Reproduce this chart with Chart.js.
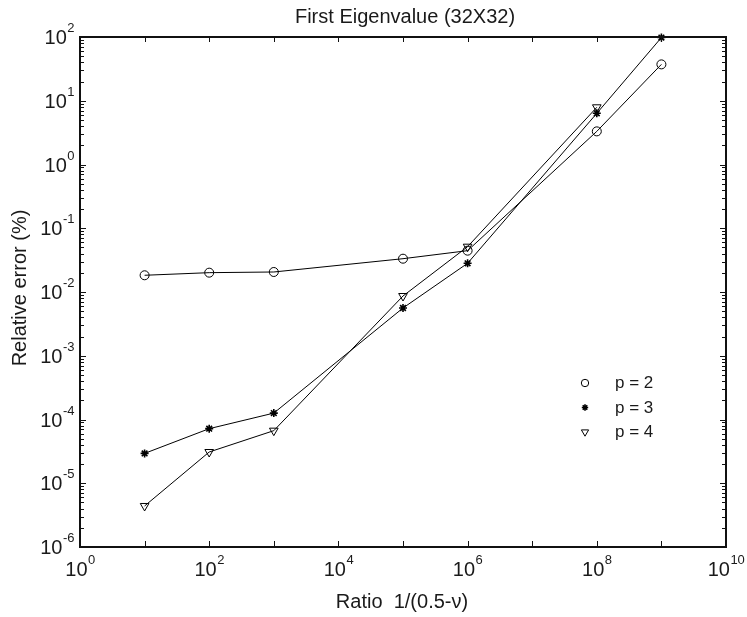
<!DOCTYPE html>
<html>
<head>
<meta charset="utf-8">
<script src="https://cdn.jsdelivr.net/npm/chart.js@4"></script>
<style>
  body { margin: 0; background: #fff; }
  #wrap { width: 747px; height: 617px; position: relative; }
</style>
</head>
<body>
<div id="wrap"><canvas id="c"></canvas></div>
<script>
// ratio 1/(0.5-nu) and relative error (%)
var ratios = [10, 100, 1000, 1e5, 1e6, 1e8, 1e9];
var errP2 = [0.0183, 0.0201, 0.0206, 0.0333, 0.0445, 3.31, 37.2];
var errP3 = [2.94e-5, 7.18e-5, 1.26e-4, 5.61e-3, 0.0282, 6.35, 98];
var errP4 = [4.4e-6, 3.09e-5, 6.68e-5, 8.65e-3, 0.0514, 7.89];
var seriesLabels = ["p = 2", "p = 3", "p = 4"];
var xLabelExps = [0, 2, 4, 6, 8, 10];
var xTickExps = [0, 1, 2, 3, 4, 5, 6, 7, 8, 9, 10];
var yTickExps = [-6, -5, -4, -3, -2, -1, 0, 1, 2];
var titleText = "First Eigenvalue (32X32)";
var xTitle = "Ratio  1/(0.5-\u03bd)";
var yTitle = "Relative error (%)";

var FONT = '"Liberation Sans", Arial, Helvetica, sans-serif';

function pts(ys) {
    return ys.map(function (v, i) { return {x: ratios[i], y: v}; });
}

var styles = [
    {pointStyle: "circle", radius: 4.5, rotation: 0, width: 1},
    {pointStyle: "star", radius: 4, rotation: 0, width: 1.6},
    {pointStyle: "triangle", radius: 5, rotation: 180, width: 1}
];

var datasets = [errP2, errP3, errP4].map(function (ys, i) {
    return {
        label: seriesLabels[i],
        data: pts(ys),
        showLine: true,
        borderColor: "#000",
        borderWidth: 1,
        pointStyle: styles[i].pointStyle,
        pointRadius: styles[i].radius,
        pointRotation: styles[i].rotation,
        pointBorderColor: "#000",
        pointBackgroundColor: "rgba(0,0,0,0)",
        pointBorderWidth: styles[i].width,
        clip: false
    };
});

// draws "10" with a raised exponent
function drawPow(ctx, exp, x, y, align) {
    ctx.font = "20px " + FONT;
    var wb = ctx.measureText("10").width;
    ctx.font = "13px " + FONT;
    var we = ctx.measureText(String(exp)).width;
    var w = wb + we;
    var x0 = align === "center" ? x - w / 2 : x - w;
    ctx.textAlign = "left";
    ctx.textBaseline = "alphabetic";
    ctx.font = "20px " + FONT;
    ctx.fillText("10", x0, y);
    ctx.font = "13px " + FONT;
    ctx.fillText(String(exp), x0 + wb + 0.5, y - 12);
}

var framePlugin = {
    id: "frame",
    afterDraw: function (chart) {
        var ctx = chart.ctx;
        var a = chart.chartArea;
        var xs = chart.scales.x, ys = chart.scales.y;
        ctx.save();
        ctx.strokeStyle = "#111";
        ctx.fillStyle = "#1a1a1a";

        // box
        ctx.lineWidth = 2;
        ctx.strokeRect(a.left, a.top, a.right - a.left, a.bottom - a.top);

        // ticks pointing inward
        ctx.lineWidth = 1;
        ctx.beginPath();
        xTickExps.forEach(function (e) {
            var px = Math.round(xs.getPixelForValue(Math.pow(10, e))) + 0.5;
            ctx.moveTo(px, a.bottom); ctx.lineTo(px, a.bottom - 6);
            ctx.moveTo(px, a.top); ctx.lineTo(px, a.top + 5);
        });
        yTickExps.forEach(function (e, idx) {
            var py = Math.round(ys.getPixelForValue(Math.pow(10, e))) + 0.5;
            ctx.moveTo(a.left, py); ctx.lineTo(a.left + 6, py);
            ctx.moveTo(a.right, py); ctx.lineTo(a.right - 6, py);
            if (idx < yTickExps.length - 1) {
                for (var k = 2; k <= 9; k++) {
                    var my = Math.round(ys.getPixelForValue(k * Math.pow(10, e))) + 0.5;
                    ctx.moveTo(a.left, my); ctx.lineTo(a.left + 4, my);
                    ctx.moveTo(a.right, my); ctx.lineTo(a.right - 4, my);
                }
            }
        });
        ctx.stroke();

        // tick labels
        xLabelExps.forEach(function (e) {
            drawPow(ctx, e, xs.getPixelForValue(Math.pow(10, e)), a.bottom + 29, "center");
        });
        yTickExps.forEach(function (e) {
            drawPow(ctx, e, 74, ys.getPixelForValue(Math.pow(10, e)) + 7, "right");
        });

        // titles
        ctx.font = "20px " + FONT;
        ctx.textAlign = "center";
        ctx.textBaseline = "alphabetic";
        ctx.fillText(titleText, 405, 23);
        ctx.fillText(xTitle, 402, 608);
        ctx.save();
        ctx.translate(26, 288);
        ctx.rotate(-Math.PI / 2);
        ctx.fillText(yTitle, 0, 0);
        ctx.restore();

        // legend (markers only)
        var base = [388, 412.5, 437];
        chart.data.datasets.forEach(function (ds, i) {
            ctx.strokeStyle = "#000";
            ctx.fillStyle = "rgba(0,0,0,0)";
            ctx.lineWidth = styles[i].width;
            Chart.helpers.drawPoint(ctx, {
                pointStyle: styles[i].pointStyle,
                radius: styles[i].radius - 0.8,
                rotation: styles[i].rotation,
                borderWidth: styles[i].width
            }, 585, base[i] - 5);
            ctx.fillStyle = "#1a1a1a";
            ctx.font = "17px " + FONT;
            ctx.textAlign = "left";
            ctx.fillText(ds.label, 615, base[i]);
        });
        ctx.restore();
    }
};

new Chart(document.getElementById("c"), {
    type: "scatter",
    data: {datasets: datasets},
    options: {
        responsive: true,
        maintainAspectRatio: false,
        animation: false,
        layout: {padding: {left: 80, top: 37, right: 21, bottom: 70}},
        plugins: {
            legend: {display: false},
            title: {display: false},
            tooltip: {enabled: false}
        },
        scales: {
            x: {type: "logarithmic", min: 1, max: 1e10, display: false},
            y: {type: "logarithmic", min: 1e-6, max: 100, display: false}
        }
    },
    plugins: [framePlugin]
});
</script>
</body>
</html>
